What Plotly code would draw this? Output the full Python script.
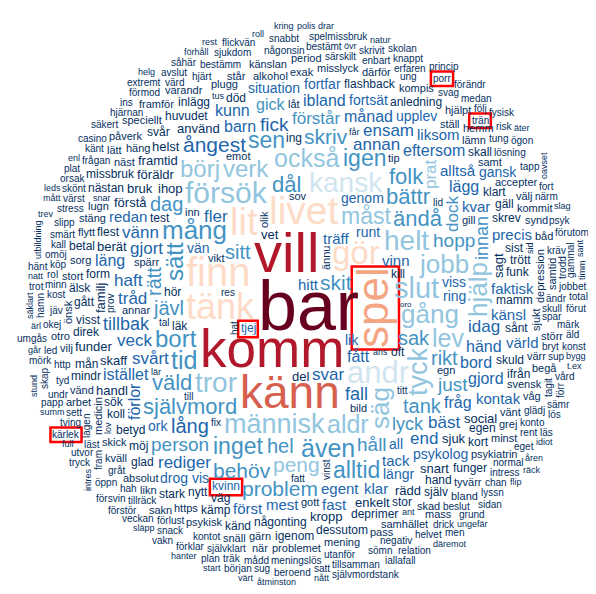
import numpy as np
import plotly.graph_objects as go

# ---------------- data ----------------
tier_colors = ['#67001f', '#b2182b', '#d6604d', '#f4a582', '#fddbc7',
               '#d1e5f0', '#92c5de', '#4393c3', '#2166ac', '#053061']

words_t0 = ['bar']
sizes_t0 = [70]
words_t1 = ['vill', 'komm']
sizes_t1 = [56, 53]
words_t2 = ['känn']
sizes_t2 = [46]
words_t3 = ['spel']
sizes_t3 = [44]
words_t4 = ['finn', 'livet', 'lit', 'tänk', 'gör']
sizes_t4 = [40, 39, 38, 36, 33]
words_t5 = ['andr', 'kansk']
sizes_t5 = [31, 28]
words_t6 = ['försök', 'slut', 'helt', 'tror', 'människ', 'tyck', 'gång', 'jobb', 'säg', 'hjälp',
            'lev', 'aldr', 'också', 'verk', 'börj', 'måst', 'peng', 'prat']
sizes_t6 = [30, 29, 28, 28, 27, 27, 26, 26, 26, 26, 25, 25, 25, 24, 24, 23, 21, 17]
words_t7 = ['mång', 'tid', 'även', 'sätt', 'bort', 'sen', 'igen', 'alltid', 'inget', 'självmord',
            'bättr', 'väld', 'ändå', 'folk', 'dål', 'skriv', 'skit', 'behöv', 'problem', 'sitt',
            'rikt', 'hel', 'dag', 'tank', 'sak', 'jävl', 'rätt', 'hopp', 'person', 'just', 'håll',
            'lyck', 'innan', 'dock', 'förstår', 'gick']
sizes_t7 = [26, 25, 25, 24, 24, 23, 23, 23, 23, 22, 22, 22, 22, 22, 22, 21, 21, 21, 21, 20,
            20, 20, 20, 20, 20, 20, 20, 19, 19, 19, 19, 18, 18, 17, 17, 16]
words_t8 = ['ångest', 'lång', 'fick', 'tillbak', 'fall', 'gjort', 'haft', 'tråd', 'vänn', 'fler',
            'svårt', 'annan', 'ensam', 'idag', 'end', 'rediger', 'bäst', 'svar', 'veck', 'istället',
            'förlor', 'läng', 'barn', 'ibland', 'månad', 'fått', 'bord', 'händ', 'gjord', 'fråg',
            'eftersom', 'lägg', 'kunn', 'redan', 'känsl', 'vinn', 'kontak', 'värld', 'kvar', 'precis',
            'träff', 'faktisk', 'först', 'mest', 'egent', 'fast', 'tack', 'klar', 'hitt', 'liksom',
            'alltså', 'runt', 'genom', 'viss', 'lik', 'längr', 'ork', 'vis', 'situation', 'fortfar',
            'fortsät', 'upplev', 'vän', 'ring', 'gansk', 'psykolog', 'all', 'drog', 'tjej', 'kvinn']
sizes_t8 = [21, 20, 19, 18, 18, 17, 17, 17, 17, 17, 17, 17, 17, 17, 17, 17, 17, 17, 17, 16,
            16, 16, 16, 16, 16, 16, 16, 16, 16, 16, 16, 16, 16, 15, 15, 15, 15, 15, 15, 15,
            15, 15, 15, 15, 15, 15, 15, 15, 15, 15, 15, 14, 14, 14, 14, 14, 14, 14, 14, 14,
            14, 14, 14, 14, 14, 14, 14, 14, 12, 12]
words_t9 = ['del', 'ihop', 'föräldr', 'vet', 'sjuk', 'sagt', 'skaff', 'använd', 'förstå', 'framtid',
            'berät', 'bruk', 'familj', 'social', 'enkelt', 'snart', 'rädd', 'funder', 'handl', 'helst',
            'kropp', 'mamm', 'skuld', 'hör', 'sånt', 'form', 'väg', 'någonting', 'deprimer', 'betyd',
            'flest', 'skrev', 'nytt', 'egen', 'funk', 'test', 'huvudet', 'hand', 'läk', 'sök',
            'ing', 'klart', 'kort', 'möj', 'sist', 'stor', 'trött', 'dessutom', 'koll', 'död',
            'direk', 'visst', 'gäll', 'ifrån', 'flashback', 'kämp', 'glad', 'anledning', 'gått', 'nästan',
            'funger', 'igenom', 'svår', 'själv', 'missbruk', 'kill', 'känd', 'inlägg', 'mindr', 'mån',
            'älsk', 'stark', 'betal', 'skall', 'oft', 'alkohol', 'bild', 'sorg', 'egn', 'stäng',
            'spärr', 'vänt', 'sjukt', 'plugg', 'psykiatrin', 'häng', 'lugn', 'emot', 'näst', 'svensk',
            'https', 'exak', 'flytt', 'ställ', 'lämn', 'medicin', 'misslyck', 'skad', 'depression', 'gott',
            'gill', 'samhället', 'mening', 'annar', 'gärn', 'vikt', 'psykisk', 'absolut', 'problemet', 'skick',
            'värr', 'stort', 'kompis', 'tyvärr', 'grej', 'minst', 'inn', 'känslan', 'vänd', 'speciellt',
            'därför', 'samt', 'pass', 'står', 'kväll', 'period', 'snäll', 'påverk', 'hjälpt', 'accepter',
            'varandr', 'kommit', 'hemm', 'ännu', 'bland', 'tip', 'välj', 'likn', 'önsk', 'begå',
            'framför', 'synd', 'våg', 'störr', 'arbet', 'sakn', 'båd', 'olik', 'sov', 'vilj',
            'otro', 'samtid', 'låt', 'lätt', 'mass', 'när',
            'negativ', 'utanför', 'skull', 'särskilt', 'glädj', 'bryt', 'beslut', 'kontot', 'frågan', 'spar',
            'lägen', 'ung', 'gråt', 'kost', 'lösning', 'självklart', 'hjärt', 'bestämm', 'http', 'enbart',
            'sömn', 'någonsin', 'meningslös', 'förlust', 'ändr', 'normal', 'res', 'vinst', 'titt', 'minn',
            'tal', 'köp', 'tillräck', 'porr', 'smärt', 'konto', 'stress', 'bestämt', 'intress', 'trän',
            'erfaren', 'mådd', 'svag', 'omöj', 'hah', 'fix', 'tillsamman', 'okej', 'tung', 'slipp',
            'kräv', 'jäv', 'värst', 'rent', 'drick', 'tagit', 'läst', 'sett', 'till', 'kall',
            'tyd', 'fatt', 'rol', 'värd', 'helvet', 'fram', 'chan', 'sjukdom', 'hjärnan', 'eget',
            'skönt', 'sup', 'lyssn', 'tving', 'kärlek', 'relation', 'känt', 'märk', 'snack', 'tapp',
            'skrivit', 'förmod', 'närm', 'satt', 'avslut', 'träk', 'led', 'trodd', 'undr', 'snabbt',
            'jobbet', 'beroend', 'prov', 'grund', 'knappt', 'medan', 'förklar', 'flickvän', 'spelmissbruk', 'veckan',
            'självmordstank', 'öppn', 'orsak', 'följ', 'sug', 'risk', 'iallafall', 'utvor', 'ögon', 'casino',
            'psyk', 'förutom', 'säkert', 'vård', 'sidan', 'mörk', 'början', 'plan', 'fort', 'förut',
            'gammal', 'skolan', 'hamn', 'såhär', 'konst', 'umgås', 'äld', 'förr', 'hänt', 'princip',
            'försvin', 'plat', 'sämr', 'förstör', 'förändr', 'papp', 'fysisk', 'totalt', 'skap', 'extremt',
            'lös', 'tryck', 'men', 'trot', 'ins', 'hat', 'vakn', 'lid', 'läs',
            'utbildning', 'oavset', 'övr', 'förhåll', 'bygg', 'lär', 'natur', 'däremot', 'ungefär', 'snar',
            'åtminston', 'slag', 'åren', 'släpp', 'får', 'tus', 'mått', 'natt', 'full', 'roll',
            'nått', 'sid', 'idiot', 'ärl', 'flip', 'lov', 'summ', 'trev', 'värt', 'går',
            't.ex', 'hanter', 'enl', 'intres', 'ant', 'ans', 'kring', 'rest', 'räck', 'polis',
            'drar', 'säklart', 'leds', 'äter', 'start', 'helg', 'sant', 'stund', 'timm', 'oro']
sizes_t9 = ([13] * 21 + [12] * 54 + [11] * 81 + [10] * 149 + [9] * 49 + [8])

rotated_words = {'spel', 'tyck', 'säg', 'hjälp', 'prat', 'sätt', 'rätt', 'innan', 'dock', 'förlor',
                 'sagt', 'familj', 'medicin', 'depression', 'sjukt', 'ännu', 'önsk', 'olik', 'samtid',
                 'lägen', 'vinst', 'tagit', 'fram', 'trodd', 'prov', 'gammal', 'hamn', 'förr', 'skap',
                 'hat', 'utbildning', 'oavset', 'sid', 'lov', 'intres', 'säklart', 'sant', 'stund', 'timm'}
highlighted_words = ['spel', 'porr', 'trän', 'tjej', 'kärlek', 'kvinn']

tiers = [(words_t0, sizes_t0), (words_t1, sizes_t1), (words_t2, sizes_t2), (words_t3, sizes_t3),
         (words_t4, sizes_t4), (words_t5, sizes_t5), (words_t6, sizes_t6), (words_t7, sizes_t7),
         (words_t8, sizes_t8), (words_t9, sizes_t9)]

# layout hints: preferred search direction (degrees, screen coords) when spiralling out
direction_hint = {'vill': -111, 'komm': 128, 'känn': 100, 'spel': 3, 'livet': -91, 'gör': -42,
                  'lit': -127, 'finn': -159, 'tänk': -170, 'andr': 43, 'kansk': -72,
                  'försök': -131, 'verk': -112, 'mång': -128, 'helt': -33, 'jobb': -21, 'slut': -8,
                  'lev': 10, 'gång': 1, 'hjälp': -6, 'säg': 52, 'tyck': 40, 'människ': 105,
                  'aldr': 72, 'tror': 139, 'peng': 94, 'också': -90, 'måst': -81, 'börj': -135,
                  'sätt': -157, 'tid': 146, 'person': 136, 'bort': 163, 'självmord': 128,
                  'även': 81, 'alltid': 73, 'problem': 100, 'behöv': 107, 'inget': 116, 'hel': 112,
                  'sak': 25, 'tank': 40, 'just': 31, 'lyck': 37, 'hopp': -12, 'skit': -31,
                  'bättr': -46, 'folk': -58, 'igen': -75, 'skriv': -83, 'sen': -104, 'dål': -125,
                  'sitt': -121, 'dag': -135, 'rätt': -176, 'jävl': 179, 'väld': 150, 'rikt': 19,
                  'ändå': -62, 'håll': 68, 'dock': -28, 'innan': -14, 'prat': -50,
                  'ångest': -121, 'fick': -100, 'barn': -109, 'lång': 121, 'tillbak': 174, 'fall': 54,
                  'gjort': -154, 'haft': -172, 'tråd': -174, 'vänn': -162, 'fler': -146, 'svårt': 169,
                  'annan': -66, 'ensam': -60, 'idag': 3, 'end': 48, 'rediger': 129, 'bäst': 36,
                  'svar': 59, 'istället': 163, 'förlor': 151, 'läng': -169, 'ibland': -85,
                  'månad': -75, 'fått': 6, 'bord': 19, 'händ': 15, 'gjord': 19, 'fråg': 38,
                  'eftersom': -45, 'lägg': -36, 'kunn': -111, 'redan': -154, 'känsl': 6, 'vinn': 23,
                  'kontak': 26, 'värld': 10, 'kvar': -34, 'precis': -19, 'träff': -22, 'faktisk': -4,
                  'först': 106, 'mest': 105, 'egent': 91, 'fast': 80, 'tack': 70, 'klar': 69,
                  'hitt': -124, 'liksom': -56, 'alltså': -45, 'runt': -25, 'genom': -21, 'viss': -10,
                  'lik': 84, 'längr': 71, 'ork': 130, 'vis': 120, 'situation': -97, 'fortfar': -89,
                  'fortsät': -74, 'upplev': -66, 'ring': -50, 'gansk': -35, 'psykolog': 57, 'all': 52,
                  'drog': 128, 'gick': -100, 'förstår': -88,
                  'porr': -59, 'trän': -47, 'tjej': 136, 'kärlek': 154, 'kvinn': 111}
early_words = {'tjej', 'kvinn'}

# ---------------- placement ----------------
W, H = 596, 594
CX, CY, RAD = 298, 297, 295

ADV = {'a': .556, 'b': .556, 'c': .5, 'd': .556, 'e': .556, 'f': .278, 'g': .556, 'h': .556,
       'i': .222, 'j': .222, 'k': .5, 'l': .222, 'm': .833, 'n': .556, 'o': .556, 'p': .556,
       'q': .556, 'r': .333, 's': .5, 't': .278, 'u': .556, 'v': .5, 'w': .722, 'x': .5,
       'y': .5, 'z': .5, 'å': .556, 'ä': .556, 'ö': .556, 'é': .556, '.': .278, ' ': .278}


def ch_top(c):
    if c in 'bdfhkl':
        return .73
    if c == 't':
        return .67
    if c in 'ijäö':
        return .72
    if c == 'å':
        return .78
    if c == '.':
        return .12
    return .53


def ch_bot(c):
    return .21 if c in 'gjpqy' else .015


def word_boxes(word, em, rot):
    tot = sum(ADV.get(c, .556) for c in word) * em
    x = -tot / 2.0
    base = 0.3465 * em
    pad = 1.2 + 0.07 * em
    out = []
    for c in word:
        a = ADV.get(c, .556) * em
        x0, y0 = x + 0.02 * em - pad, base - ch_top(c) * em - pad
        x1, y1 = x + a - 0.02 * em + pad, base + ch_bot(c) * em + pad
        if rot:
            x0, y0, x1, y1 = y0, -x1, y1, -x0
        out.append([int(np.floor(x0)), int(np.floor(y0)), int(np.ceil(x1)), int(np.ceil(y1))])
        x += a
    return np.array(out), tot, pad


def sat(o):
    s = np.zeros((H + 1, W + 1), np.int32)
    s[1:, 1:] = o.astype(np.int32).cumsum(0).cumsum(1)
    return s


yy, xx = np.mgrid[0:H, 0:W]
occ = (xx - CX) ** 2 + (yy - CY) ** 2 > RAD ** 2
S = sat(occ)

gy, gx = np.mgrid[0:H:2, 0:W:2]
gd = np.hypot(gx - CX, gy - CY)
inside = gd <= RAD
px, py, pd = gx[inside], gy[inside], gd[inside]
pang = np.arctan2(py - CY, px - CX)
pring = np.floor(pd / 4.0)

items = []
for ti, (ws, ss) in enumerate(tiers):
    for w, s in zip(ws, ss):
        order = 16.5 if w in early_words else s
        items.append((order, s, w, ti))
items.sort(key=lambda t: -t[0])

placed = []
for j, (_, size, w, ti) in enumerate(items):
    rot = w in rotated_words
    boxes, tlen, pad = word_boxes(w, size, rot)
    bx0, by0 = boxes[:, 0].min(), boxes[:, 1].min()
    bx1, by1 = boxes[:, 2].max(), boxes[:, 3].max()
    ok = (px + bx0 >= 0) & (px + bx1 <= W) & (py + by0 >= 0) & (py + by1 <= H)
    cx, cy = px[ok], py[ok]
    if w in direction_hint:
        h = np.deg2rad(direction_hint[w])
        dth = np.abs(np.angle(np.exp(1j * (pang[ok] - h))))
        wt = 300.0 if w in highlighted_words else 90.0
        key = pd[ok] + wt * dth
    else:
        start = (j * 2.399963) % (2 * np.pi)
        key = pring[ok] * 10.0 + np.mod(pang[ok] - start, 2 * np.pi)
    tot = np.zeros(len(cx), np.int64)
    for x0, y0, x1, y1 in boxes:
        X0, X1, Y0, Y1 = cx + x0, cx + x1, cy + y0, cy + y1
        tot += S[Y1, X1] - S[Y0, X1] - S[Y1, X0] + S[Y0, X0]
    idx = np.flatnonzero(tot == 0)
    if len(idx) == 0:
        continue
    i = idx[np.argmin(key[idx])]
    qx, qy = int(cx[i]), int(cy[i])
    ip = int(round(pad))
    for x0, y0, x1, y1 in boxes:
        occ[qy + y0 + ip:qy + y1 - ip, qx + x0 + ip:qx + x1 - ip] = True
    S = sat(occ)
    placed.append((w, size, ti, rot, qx, qy, tlen))

# ---------------- figure ----------------
fig = go.Figure()
fig.add_trace(go.Scatter(x=[0, W], y=[0, H], mode='markers', marker=dict(opacity=0),
                         hoverinfo='skip', showlegend=False))
annotations = []
shapes = []
for w, size, ti, rot, qx, qy, tlen in placed:
    annotations.append(dict(x=qx, y=qy, xref='x', yref='y', text=w, showarrow=False,
                            xanchor='center', yanchor='middle', textangle=-90 if rot else 0,
                            font=dict(family='Liberation Sans, Arial, sans-serif',
                                      size=size, color=tier_colors[ti])))
    if w in highlighted_words:
        half = tlen / 2 - 0.03 * size + 2.5
        up = 0.3465 * size - 0.75 * size - 2.5
        dn = 0.3465 * size + 0.21 * size + 2.5
        if rot:
            x0, x1, y0, y1 = qx + up, qx + dn, qy - half, qy + half
        else:
            x0, x1, y0, y1 = qx - half, qx + half, qy + up, qy + dn
        shapes.append(dict(type='rect', xref='x', yref='y', x0=x0, x1=x1, y0=y0, y1=y1,
                           line=dict(color='#ff0000', width=2.5), fillcolor='rgba(0,0,0,0)'))

fig.update_layout(width=W, height=H, margin=dict(l=0, r=0, t=0, b=0),
                  paper_bgcolor='white', plot_bgcolor='white',
                  xaxis=dict(range=[0, W], visible=False, fixedrange=True),
                  yaxis=dict(range=[H, 0], visible=False, fixedrange=True),
                  annotations=annotations, shapes=shapes, showlegend=False)
fig.write_html('out.html')
